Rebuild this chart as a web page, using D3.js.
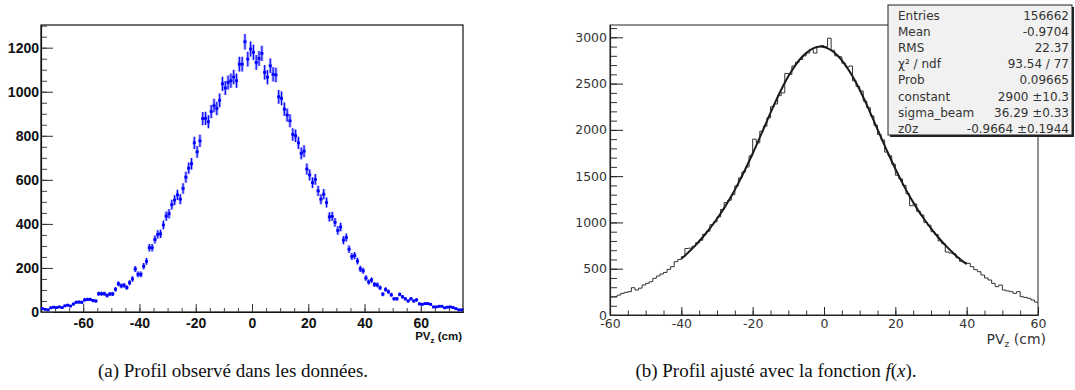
<!DOCTYPE html>
<html><head><meta charset="utf-8">
<script src="https://cdn.jsdelivr.net/npm/d3@7"></script>
<style>body{margin:0;background:#fff}svg{display:block}</style>
</head><body>
<svg id="c" width="1075" height="390"></svg>
<script>
// ---------- DATA ----------
// (a) observed profile: 1 cm bins starting at -75 cm
const leftBinStart = -75;
const leftCounts = [
 15,12,10,19,22,20,23,20,28,31,
 27,36,44,45,44,55,57,57,52,50,
 83,83,83,75,82,82,103,128,119,121,
 111,133,150,195,171,171,208,230,292,292,
 329,352,355,395,435,446,487,508,532,512,
 561,612,653,673,768,727,777,878,879,864,
 910,937,924,961,1036,1017,1042,1050,1067,1050,
 1125,1125,1227,1148,1194,1179,1133,1151,1174,1088,
 1066,1118,1079,1076,977,970,921,894,868,806,
 800,768,720,730,649,622,587,602,550,512,
 535,497,432,434,407,370,386,326,338,285,
 252,256,231,196,187,154,136,145,125,123,
 110,81,102,92,78,60,60,80,69,60,
 50,60,50,55,37,35,38,38,35,23,
 23,26,26,19,22,23,20,15,10,10];
// (b) fitted profile histogram: 1 cm bins starting at -60 cm
const rightBinStart = -60;
const rightCounts = [
 198,198,215,234,245,252,295,270,290,324,
 342,360,396,421,443,460,493,522,576,600,
 630,718,722,742,780,808,872,905,975,1005,
 1060,1140,1215,1240,1300,1395,1480,1545,1600,1720,
 1900,1860,1985,2040,2130,2250,2280,2370,2400,2610,
 2600,2690,2730,2760,2800,2830,2870,2830,2900,2910,
 2900,2990,2860,2800,2790,2720,2680,2690,2530,2470,
 2420,2310,2240,2150,2050,1950,1890,1760,1720,1630,
 1510,1470,1400,1310,1180,1200,1120,1080,1000,970,
 900,870,800,770,680,670,660,620,580,565,
 558,522,490,468,432,400,378,342,306,324,
 270,260,252,234,252,198,190,180,162,140];
// fit curve f(x)
const fitX = [-40,-38,-36,-34,-32,-30,-28,-26,-24,-22,-20,-18,-16,-14,-12,-10,-8,-6,-4,-2,0,
              2,4,6,8,10,12,14,16,18,20,22,24,26,28,30,32,34,36,38,40];
const fitY = [607,677,755,840,935,1040,1155,1282,1425,1580,1745,1918,2095,2270,2433,2578,2700,2795,2860,2896,2896,
              2860,2795,2700,2578,2433,2270,2095,1918,1745,1580,1425,1282,1155,1040,935,840,755,677,607,550];
const leftXTicks = [-60,-40,-20,0,20,40,60];
const leftYTicks = [0,200,400,600,800,1000,1200];
const rightXTicks = [-60,-40,-20,0,20,40,60];
const rightYTicks = [0,500,1000,1500,2000,2500,3000];
const statLabels = ["Entries","Mean","RMS","\u03C7\u00B2 / ndf","Prob","constant","sigma_beam","z0z"];
const statValues = ["156662","-0.9704","22.37","93.54 / 77","0.09665","2900 \u00B110.3","36.29 \u00B10.33","-0.9664 \u00B10.1944"];
const captionA = "(a) Profil observé dans les données.";
const captionB = "(b) Profil ajusté avec la fonction ";

// ---------- DRAW ----------
const svg = d3.select("#c");
const plain = d => String(d);

// ===== Left panel =====
const xL = d3.scaleLinear().domain([-75,75]).range([41,463]);
const yL = d3.scaleLinear().domain([0,1303]).range([312,25]);
const gL = svg.append("g");

gL.append("rect").attr("x",xL(-75)).attr("y",yL(1303)).attr("width",xL(75)-xL(-75)).attr("height",yL(0)-yL(1303))
  .attr("fill","none").attr("stroke","#111").attr("stroke-width",1.2);

gL.append("g").attr("transform",`translate(0,${yL(0)})`)
  .call(d3.axisBottom(xL).tickValues(d3.range(-75,76,5)).tickSize(-4).tickSizeOuter(0).tickFormat(""))
  .call(g=>g.selectAll("line").attr("stroke","#444"));
gL.append("g").attr("transform",`translate(${xL(-75)},0)`)
  .call(d3.axisLeft(yL).tickValues(d3.range(0,1301,50)).tickSize(-6).tickSizeOuter(0).tickFormat(""))
  .call(g=>g.selectAll("line").attr("stroke","#444"));
const axLx = gL.append("g").attr("transform",`translate(0,${yL(0)})`)
  .call(d3.axisBottom(xL).tickValues(leftXTicks).tickSize(-8).tickSizeOuter(0).tickPadding(6).tickFormat(plain));
const axLy = gL.append("g").attr("transform",`translate(${xL(-75)},0)`)
  .call(d3.axisLeft(yL).tickValues(leftYTicks).tickSize(-12).tickSizeOuter(0).tickPadding(2).tickFormat(plain));
[axLx,axLy].forEach(a=>{
  a.selectAll("path").attr("stroke","#111").attr("stroke-width",1.2);
  a.selectAll("line").attr("stroke","#333");
  a.selectAll("text").attr("font-family","Liberation Sans, Arial, sans-serif").attr("font-weight","bold")
   .attr("font-size","14px").attr("fill","#111");
});

const ptsL = leftCounts.map((v,i)=>({x:leftBinStart+i+0.5, v}));
const pg = gL.append("g");
pg.selectAll("rect.halo").data(ptsL).join("rect")
  .attr("x",d=>xL(d.x)-1.6).attr("width",3.2)
  .attr("y",d=>yL(d.v+Math.sqrt(d.v))).attr("height",d=>yL(d.v-Math.sqrt(d.v))-yL(d.v+Math.sqrt(d.v)))
  .attr("fill","#8080ff").attr("opacity",0.55);
pg.selectAll("line.eb").data(ptsL).join("line")
  .attr("x1",d=>xL(d.x)).attr("x2",d=>xL(d.x))
  .attr("y1",d=>yL(d.v+Math.sqrt(d.v))).attr("y2",d=>yL(d.v-Math.sqrt(d.v)))
  .attr("stroke","#0000ff").attr("stroke-width",1.1);
pg.selectAll("line.hb").data(ptsL).join("line")
  .attr("x1",d=>xL(d.x-0.5)).attr("x2",d=>xL(d.x+0.5))
  .attr("y1",d=>yL(d.v)).attr("y2",d=>yL(d.v))
  .attr("stroke","#0000ff").attr("stroke-width",1.2);
pg.selectAll("rect.mk").data(ptsL).join("rect")
  .attr("x",d=>xL(d.x)-1.4).attr("y",d=>yL(d.v)-1.4).attr("width",2.8).attr("height",2.8)
  .attr("fill","#0000ff");

const tL = gL.append("text").attr("x",462).attr("y",340).attr("text-anchor","end")
  .attr("font-family","Liberation Sans, Arial, sans-serif").attr("font-weight","bold").attr("font-size","11.5px").attr("fill","#111");
tL.append("tspan").text("PV");
tL.append("tspan").attr("font-size","8px").attr("dy",3).text("z");
tL.append("tspan").attr("dy",-3).text(" (cm)");

// ===== Right panel =====
const xR = d3.scaleLinear().domain([-60,60]).range([610,1038]);
const yR = d3.scaleLinear().domain([0,3133]).range([315,25]);
const gR = svg.append("g");
gR.append("rect").attr("x",xR(-60)).attr("y",yR(3133)).attr("width",xR(60)-xR(-60)).attr("height",yR(0)-yR(3133))
  .attr("fill","none").attr("stroke","#222").attr("stroke-width",1);

gR.append("g").attr("transform",`translate(0,${yR(0)})`)
  .call(d3.axisBottom(xR).tickValues(d3.range(-60,61,5)).tickSize(-4.5).tickSizeOuter(0).tickFormat(""))
  .call(g=>g.selectAll("line").attr("stroke","#333"));
gR.append("g").attr("transform",`translate(${xR(-60)},0)`)
  .call(d3.axisLeft(yR).tickValues(d3.range(0,3101,100)).tickSize(-7).tickSizeOuter(0).tickFormat(""))
  .call(g=>g.selectAll("line").attr("stroke","#333"));
const axRx = gR.append("g").attr("transform",`translate(0,${yR(0)})`)
  .call(d3.axisBottom(xR).tickValues(rightXTicks).tickSize(-8).tickSizeOuter(0).tickPadding(4).tickFormat(plain));
const axRy = gR.append("g").attr("transform",`translate(${xR(-60)},0)`)
  .call(d3.axisLeft(yR).tickValues(rightYTicks).tickSize(-13).tickSizeOuter(0).tickPadding(3).tickFormat(plain));
[axRx,axRy].forEach(a=>{
  a.selectAll("path").attr("stroke","#222").attr("stroke-width",1.2);
  a.selectAll("line").attr("stroke","#222");
  a.selectAll("text").attr("font-family","DejaVu Sans, sans-serif").attr("font-size","12.5px").attr("fill","#333");
});

const histPts = rightCounts.map((v,i)=>[rightBinStart+i, v]);
histPts.push([rightBinStart+rightCounts.length, rightCounts[rightCounts.length-1]]);
gR.append("path").datum(histPts)
  .attr("d", d3.line().x(d=>xR(d[0])).y(d=>yR(d[1])).curve(d3.curveStepAfter))
  .attr("fill","none").attr("stroke","#333").attr("stroke-width",1);

gR.append("path").datum(fitX.map((x,i)=>[x,fitY[i]]))
  .attr("d", d3.line().x(d=>xR(d[0])).y(d=>yR(d[1])).curve(d3.curveCatmullRom))
  .attr("fill","none").attr("stroke","#1a1a1a").attr("stroke-width",2);

const tR = gR.append("text").attr("x",1046).attr("y",344).attr("text-anchor","end")
  .attr("font-family","DejaVu Sans, sans-serif").attr("font-size","14px").attr("fill","#333");
tR.append("tspan").text("PV");
tR.append("tspan").attr("font-size","9px").attr("dy",3).text("z");
tR.append("tspan").attr("dy",-3).text(" (cm)");

// stats box
const sb = svg.append("g");
sb.append("rect").attr("x",890).attr("y",7).attr("width",184).attr("height",130).attr("fill","#222");
sb.append("rect").attr("x",888).attr("y",5).attr("width",184).attr("height",130)
  .attr("fill","#f1f1f1").attr("stroke","#222").attr("stroke-width",1);
statLabels.forEach((l,i)=>{
  const y = 19.5 + i*16.2;
  sb.append("text").attr("x",898).attr("y",y).attr("font-family","DejaVu Sans, sans-serif").attr("font-size","12px").attr("fill","#333").text(l);
  sb.append("text").attr("x",1069).attr("y",y).attr("text-anchor","end").attr("font-family","DejaVu Sans, sans-serif").attr("font-size","12px").attr("fill","#333").text(statValues[i]);
});

// captions
const capFont = "Liberation Serif, Times New Roman, serif";
svg.append("text").attr("x",233).attr("y",377).attr("text-anchor","middle")
  .attr("font-family",capFont).attr("font-size","19px").attr("fill","#111").text(captionA);
const cb = svg.append("text").attr("x",776).attr("y",377).attr("text-anchor","middle")
  .attr("font-family",capFont).attr("font-size","19px").attr("fill","#111");
cb.append("tspan").text(captionB);
cb.append("tspan").attr("font-style","italic").text("f");
cb.append("tspan").text("(");
cb.append("tspan").attr("font-style","italic").text("x");
cb.append("tspan").text(").");
</script>
</body></html>
